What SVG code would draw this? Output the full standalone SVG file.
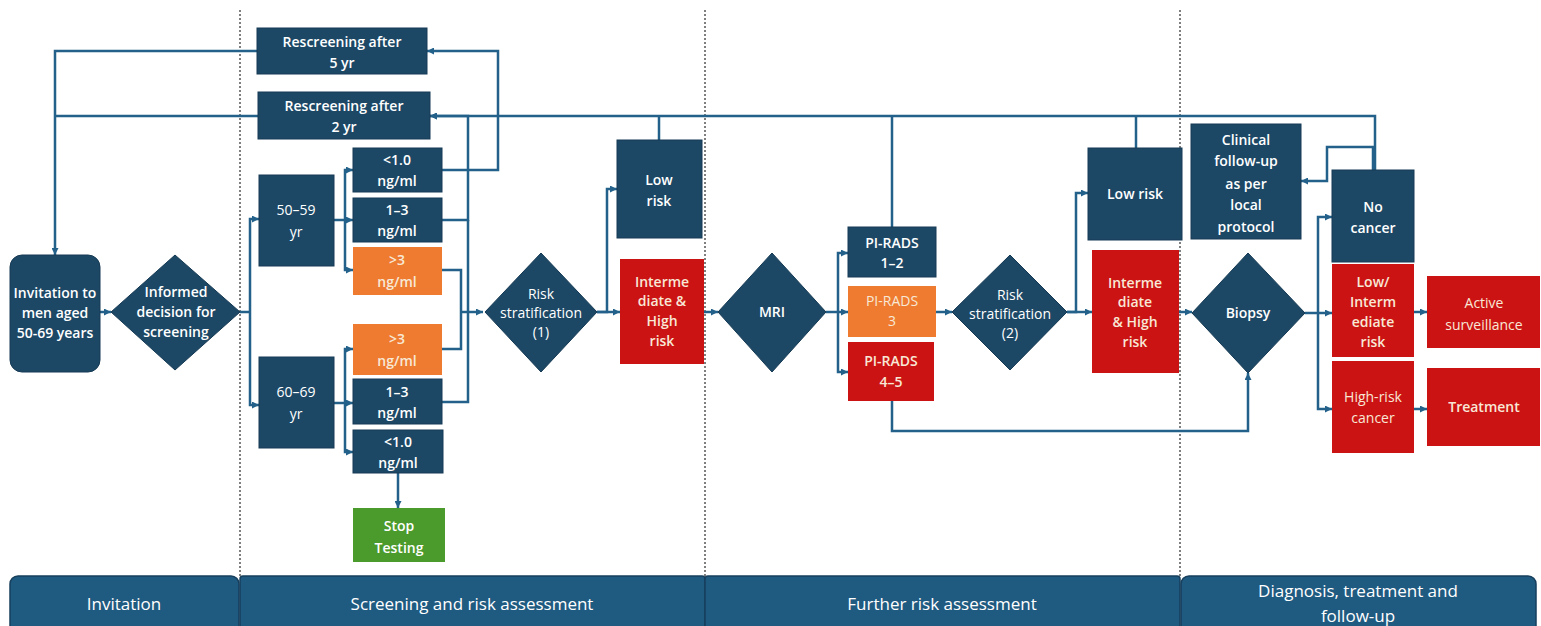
<svg xmlns="http://www.w3.org/2000/svg" width="1541" height="626" viewBox="0 0 1541 626">
<defs>
<marker id="ar" viewBox="0 0 8 8" refX="8" refY="4" markerWidth="7" markerHeight="7" markerUnits="userSpaceOnUse" orient="auto">
<path d="M0,0 L8,4 L0,8 z" fill="#23618a"/>
</marker>
<style>
.n{fill:#1c4866;stroke:#163a54;stroke-width:1}
.o{fill:#ee7b30}
.r{fill:#cc1314}
.g{fill:#4b9a2c}
.t{font-family:"Open Sans","Liberation Sans",Arial,sans-serif;font-size:14px;font-weight:600;fill:#ffffff;text-anchor:middle}
.w{fill:#f8e8d6}
.l{font-weight:400}
.c{fill:none;stroke:#23618a;stroke-width:2.5}
.ca{fill:none;stroke:#23618a;stroke-width:2.5;marker-end:url(#ar)}
.sep{stroke:#555;stroke-width:1.5;stroke-dasharray:2 2}
.bar{fill:#1f5a80;stroke:#173f5c;stroke-width:1.5}
.bt{font-family:"Open Sans","Liberation Sans",Arial,sans-serif;font-size:17px;fill:#ffffff;text-anchor:middle}
</style>
</defs>
<rect width="1541" height="626" fill="#ffffff"/>
<g id="separators">
<line class="sep" x1="240" y1="10" x2="240" y2="576"/>
<line class="sep" x1="705" y1="10" x2="705" y2="576"/>
<line class="sep" x1="1180" y1="10" x2="1180" y2="576"/>
</g>
<g id="connectors">
<path class="ca" d="M100,312 H111"/>
<path class="c" d="M240,312 H250"/>
<path class="ca" d="M250,312 V219 H259"/>
<path class="ca" d="M250,312 V405 H259"/>
<path class="c" d="M334,220 H345"/>
<path class="ca" d="M345,220 V170 H353"/>
<path class="ca" d="M345,220 H353"/>
<path class="ca" d="M345,220 V270 H353"/>
<path class="c" d="M334,403 H345"/>
<path class="ca" d="M345,403 V349 H353"/>
<path class="ca" d="M345,403 H353"/>
<path class="ca" d="M345,403 V452 H353"/>
<path class="ca" d="M398,473 V508"/>
<path class="ca" d="M442,170 H498 V51 H427"/>
<path class="ca" d="M442,220 H468 V116 H430"/>
<path class="c" d="M442,402 H468 V220"/>
<path class="c" d="M442,270 H461 V349 H442"/>
<path class="ca" d="M461,312 H483"/>
<path class="ca" d="M257,51 H55 V255"/>
<path class="c" d="M258,116 H55"/>
<path class="ca" d="M1375,170 V116 H430"/>
<path class="c" d="M659,140 V116"/>
<path class="c" d="M892,227 V116"/>
<path class="c" d="M1136,148 V116"/>
<path class="ca" d="M597,312 H607 V189 H617"/>
<path class="ca" d="M597,312 H620"/>
<path class="ca" d="M704,312 H718"/>
<path class="c" d="M826,312 H838"/>
<path class="ca" d="M838,312 V253 H848"/>
<path class="ca" d="M838,312 H848"/>
<path class="ca" d="M838,312 V372 H848"/>
<path class="ca" d="M936,312 H952"/>
<path class="ca" d="M892,401 V431 H1248 V373"/>
<path class="ca" d="M1067,312 H1076 V193 H1088"/>
<path class="ca" d="M1067,312 H1092"/>
<path class="ca" d="M1179,312 H1192"/>
<path class="c" d="M1305,313 H1318"/>
<path class="ca" d="M1318,313 V217 H1332"/>
<path class="ca" d="M1318,313 H1332"/>
<path class="ca" d="M1318,313 V409 H1332"/>
<path class="ca" d="M1373,170 V147 H1327 V181 H1301"/>
<path class="ca" d="M1414,312 H1427"/>
<path class="ca" d="M1414,409 H1427"/>
</g>
<g id="invitation">
<rect class="n" x="10" y="255" width="90" height="117" rx="12"/>
<text class="t" x="55" y="298">Invitation to</text>
<text class="t" x="55" y="318">men aged</text>
<text class="t" x="55" y="338">50-69 years</text>
</g>
<g id="informed">
<polygon class="n" points="175,255 240,312 175,370 111,312"/>
<text class="t" x="176" y="297">Informed</text>
<text class="t" x="176" y="317">decision for</text>
<text class="t" x="176" y="337">screening</text>
</g>
<g id="rescreen5">
<rect class="n" x="257" y="28" width="170" height="46"/>
<text class="t" x="342" y="47">Rescreening after</text>
<text class="t" x="342" y="68">5 yr</text>
</g>
<g id="rescreen2">
<rect class="n" x="258" y="92" width="172" height="47"/>
<text class="t" x="344" y="111">Rescreening after</text>
<text class="t" x="344" y="132">2 yr</text>
</g>
<g id="age5059">
<rect class="n" x="259" y="175" width="75" height="91"/>
<text class="t l" x="296" y="215">50–59</text>
<text class="t l" x="296" y="237">yr</text>
</g>
<g id="age6069">
<rect class="n" x="259" y="357" width="75" height="91"/>
<text class="t l" x="296" y="397">60–69</text>
<text class="t l" x="296" y="419">yr</text>
</g>
<g id="psa1-lt1">
<rect class="n" x="353" y="148" width="89" height="44"/>
<text class="t" x="397" y="165">&lt;1.0</text>
<text class="t" x="397" y="186">ng/ml</text>
</g>
<g id="psa1-13">
<rect class="n" x="353" y="198" width="89" height="44"/>
<text class="t" x="397" y="215">1–3</text>
<text class="t" x="397" y="236">ng/ml</text>
</g>
<g id="psa1-gt3">
<rect class="o" x="353" y="247" width="89" height="48"/>
<text class="t w" x="397" y="265">&gt;3</text>
<text class="t w" x="397" y="287">ng/ml</text>
</g>
<g id="psa2-gt3">
<rect class="o" x="353" y="324" width="89" height="51"/>
<text class="t w" x="397" y="344">&gt;3</text>
<text class="t w" x="397" y="366">ng/ml</text>
</g>
<g id="psa2-13">
<rect class="n" x="353" y="379" width="89" height="45"/>
<text class="t" x="397" y="397">1–3</text>
<text class="t" x="397" y="418">ng/ml</text>
</g>
<g id="psa2-lt1">
<rect class="n" x="353" y="430" width="90" height="43"/>
<text class="t" x="398" y="447">&lt;1.0</text>
<text class="t" x="398" y="468">ng/ml</text>
</g>
<g id="stop">
<rect class="g" x="353" y="508" width="92" height="54"/>
<text class="t" x="399" y="531">Stop</text>
<text class="t" x="399" y="553">Testing</text>
</g>
<g id="risk1">
<polygon class="n" points="541,253 597,312 541,372 485,312"/>
<text class="t l" x="541" y="299">Risk</text>
<text class="t l" x="541" y="318">stratification</text>
<text class="t l" x="541" y="337">(1)</text>
</g>
<g id="lowrisk1">
<rect class="n" x="617" y="140" width="85" height="98"/>
<text class="t" x="659" y="185">Low</text>
<text class="t" x="659" y="206">risk</text>
</g>
<g id="highrisk1">
<rect class="r" x="620" y="259" width="84" height="105"/>
<text class="t w" x="662" y="287">Interme</text>
<text class="t w" x="662" y="306">diate &amp;</text>
<text class="t w" x="662" y="326">High</text>
<text class="t w" x="662" y="346">risk</text>
</g>
<g id="mri">
<polygon class="n" points="772,253 826,312 772,372 718,312"/>
<text class="t" x="772" y="317">MRI</text>
</g>
<g id="pirads12">
<rect class="n" x="848" y="227" width="88" height="50"/>
<text class="t" x="892" y="248">PI-RADS</text>
<text class="t" x="892" y="268">1–2</text>
</g>
<g id="pirads3">
<rect class="o" x="848" y="286" width="88" height="51"/>
<text class="t w l" x="892" y="306">PI-RADS</text>
<text class="t w l" x="892" y="326">3</text>
</g>
<g id="pirads45">
<rect class="r" x="848" y="342" width="86" height="59"/>
<text class="t w" x="891" y="366">PI-RADS</text>
<text class="t w" x="891" y="387">4–5</text>
</g>
<g id="risk2">
<polygon class="n" points="1010,255 1067,312 1010,370 952,312"/>
<text class="t l" x="1010" y="300">Risk</text>
<text class="t l" x="1010" y="319">stratification</text>
<text class="t l" x="1010" y="338">(2)</text>
</g>
<g id="lowrisk2">
<rect class="n" x="1088" y="148" width="94" height="92"/>
<text class="t" x="1135" y="199">Low risk</text>
</g>
<g id="highrisk2">
<rect class="r" x="1092" y="250" width="87" height="123"/>
<text class="t w" x="1135" y="288">Interme</text>
<text class="t w" x="1135" y="307">diate</text>
<text class="t w" x="1135" y="327">&amp; High</text>
<text class="t w" x="1135" y="347">risk</text>
</g>
<g id="biopsy">
<polygon class="n" points="1248,253 1305,313 1248,373 1192,313"/>
<text class="t" x="1248" y="318">Biopsy</text>
</g>
<g id="clinical">
<rect class="n" x="1191" y="124" width="110" height="115"/>
<text class="t" x="1246" y="145">Clinical</text>
<text class="t" x="1246" y="166">follow-up</text>
<text class="t" x="1246" y="189">as per</text>
<text class="t" x="1246" y="210">local</text>
<text class="t" x="1246" y="232">protocol</text>
</g>
<g id="nocancer">
<rect class="n" x="1332" y="170" width="82" height="92"/>
<text class="t" x="1373" y="212">No</text>
<text class="t" x="1373" y="233">cancer</text>
</g>
<g id="lowinterm">
<rect class="r" x="1332" y="264" width="82" height="93"/>
<text class="t w" x="1373" y="287">Low/</text>
<text class="t w" x="1373" y="307">Interm</text>
<text class="t w" x="1373" y="327">ediate</text>
<text class="t w" x="1373" y="347">risk</text>
</g>
<g id="highriskcancer">
<rect class="r" x="1332" y="361" width="82" height="92"/>
<text class="t w l" x="1373" y="402">High-risk</text>
<text class="t w l" x="1373" y="423">cancer</text>
</g>
<g id="active">
<rect class="r" x="1427" y="276" width="113" height="72"/>
<text class="t w l" x="1484" y="308">Active</text>
<text class="t w l" x="1484" y="330">surveillance</text>
</g>
<g id="treatment">
<rect class="r" x="1427" y="368" width="113" height="78"/>
<text class="t w" x="1484" y="412">Treatment</text>
</g>
<g id="phases">
<rect class="bar" x="10" y="576" width="229" height="60" rx="8"/>
<rect class="bar" x="240" y="576" width="465" height="60" rx="3"/>
<rect class="bar" x="705" y="576" width="475" height="60" rx="3"/>
<rect class="bar" x="1181" y="576" width="355" height="60" rx="8"/>
<text class="bt" x="124" y="610">Invitation</text>
<text class="bt" x="472" y="610">Screening and risk assessment</text>
<text class="bt" x="942" y="610">Further risk assessment</text>
<text class="bt" x="1358" y="597">Diagnosis, treatment and</text>
<text class="bt" x="1358" y="622">follow-up</text>
</g>
</svg>
